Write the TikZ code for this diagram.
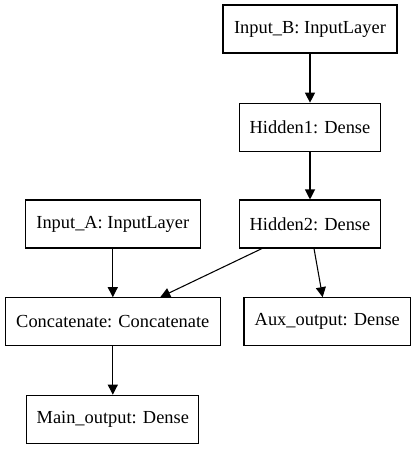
\documentclass[tikz,border=0pt]{standalone}
\usepackage{fontspec}
\setmainfont{Liberation Serif}
\usetikzlibrary{arrows.meta}

\begin{document}
\begin{tikzpicture}[x=0.75pt,y=0.75pt,yscale=-1,xscale=1,
	layer/.style={draw, line width=0.8pt, minimum height=36pt, inner sep=0.75pt, font=\fontsize{13.8}{16}\selectfont},
	flow/.style={line width=0.8pt, -{Triangle[length=7.5pt,width=7.5pt]}}]

	\useasboundingbox (0,0) rectangle (416,449);

	\node [layer, minimum width=130.5pt] (inb) at (310,29) {Input\_B: InputLayer};
	\node [layer, minimum width=105.5pt] (hid1) at (310,127.2) {Hidden1: Dense};
	\node [layer, minimum width=105.5pt] (hid2) at (310,224) {Hidden2: Dense};
	\node [layer, minimum width=131pt] (ina) at (112.8,224) {Input\_A: InputLayer};
	\node [layer, minimum width=161pt] (concat) at (112.8,321.7) {Concatenate: Concatenate};
	\node [layer, minimum width=125pt] (aux) at (327.3,321.7) {Aux\_output: Dense};
	\node [layer, minimum width=129pt] (mainout) at (112.8,419.2) {Main\_output: Dense};

	\draw [flow] (inb) -- (hid1);
	\draw [flow] (hid1) -- (hid2);
	\draw [flow] (ina) -- (concat);
	\draw [flow] ([xshift=-36pt]hid2.south) -- ([xshift=35.6pt]concat.north);
	\draw [flow] ([xshift=3pt]hid2.south) -- ([xshift=-3.5pt]aux.north);
	\draw [flow] (concat) -- (mainout);

\end{tikzpicture}
\end{document}
